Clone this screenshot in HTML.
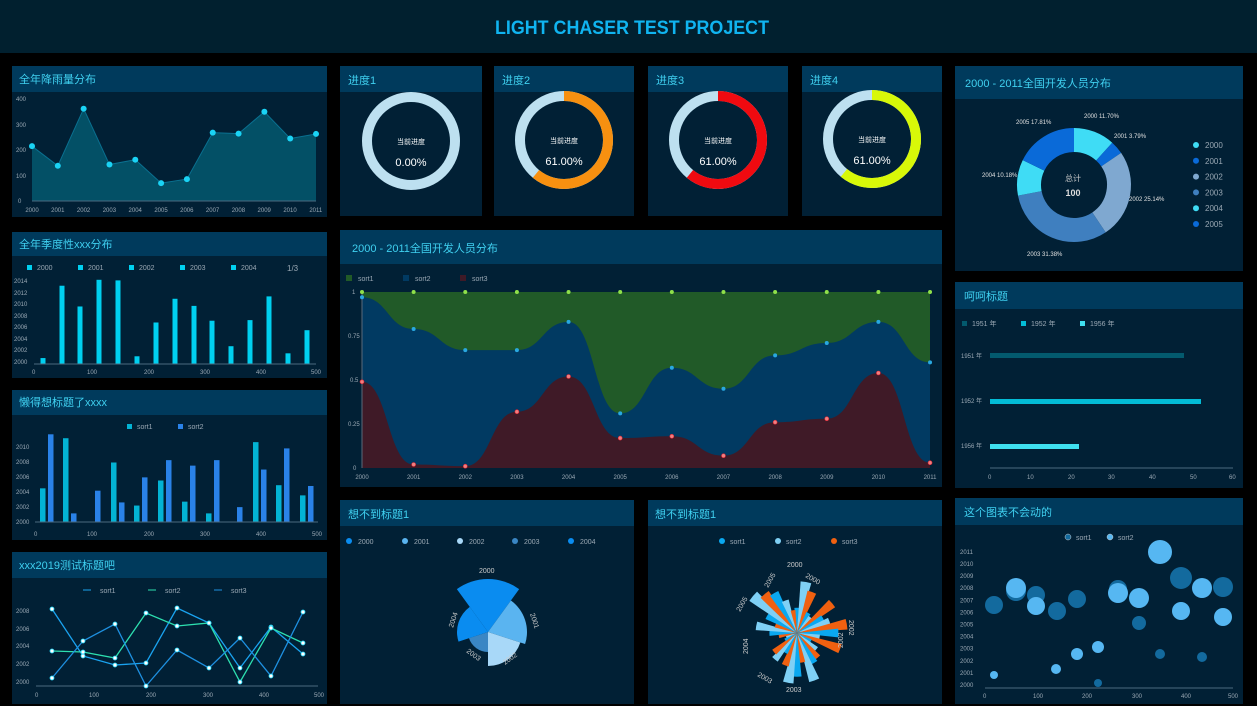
<!DOCTYPE html>
<html><head><meta charset="utf-8"><style>
html,body{margin:0;padding:0;background:#000;}
svg{display:block;font-family:"Liberation Sans","Noto Sans CJK SC",sans-serif;}
.t{fill:#3fd0f0;font-size:11px;}
.ax{fill:#9aa8b4;font-size:6px;}
.lg{fill:#9aa8b4;font-size:7px;}
</style></head><body>
<svg id="s" width="1257" height="706" viewBox="0 0 1257 706" xmlns="http://www.w3.org/2000/svg">
<rect width="1257" height="706" fill="#000"/>
<rect x="0" y="0" width="1257" height="53" fill="#01202f"/>
<text x="632" y="34" text-anchor="middle" fill="#10b4f0" font-size="19" font-weight="bold" textLength="274" lengthAdjust="spacingAndGlyphs">LIGHT CHASER TEST PROJECT</text>

<g id="panels"></g>
<g id="shapes"></g>

<text class="t" x="19" y="83">全年降雨量分布</text>
<text class="t" x="19" y="248">全年季度性xxx分布</text>
<text class="t" x="19" y="406">懒得想标题了xxxx</text>
<text class="t" x="19" y="569">xxx2019测试标题吧</text>
<text class="t" x="348" y="84" font-size="12">进度1</text>
<text class="t" x="502" y="84" font-size="12">进度2</text>
<text class="t" x="656" y="84" font-size="12">进度3</text>
<text class="t" x="810" y="84" font-size="12">进度4</text>
<text class="t" x="352" y="252" font-size="14">2000 - 2011全国开发人员分布</text>
<text class="t" x="348" y="518">想不到标题1</text>
<text class="t" x="655" y="518">想不到标题1</text>
<text class="t" x="965" y="87" font-size="12">2000 - 2011全国开发人员分布</text>
<text class="t" x="964" y="300">呵呵标题</text>
<text class="t" x="964" y="516">这个图表不会动的</text>

<g fill="#fff" text-anchor="middle">
<text x="411" y="144" font-size="7">当前进度</text><text x="411" y="166" font-size="11">0.00%</text>
<text x="564" y="143" font-size="7">当前进度</text><text x="564" y="165" font-size="11">61.00%</text>
<text x="718" y="143" font-size="7">当前进度</text><text x="718" y="165" font-size="11">61.00%</text>
<text x="872" y="142" font-size="7">当前进度</text><text x="872" y="164" font-size="11">61.00%</text>
</g>

<g class="ax">
<text x="16" y="101">400</text><text x="16" y="127">300</text><text x="16" y="152">200</text><text x="16" y="178">100</text><text x="18" y="203">0</text>
</g>
<g class="ax" text-anchor="middle" id="p1x"></g>

<g class="lg">
<rect x="27" y="265" width="5" height="5" fill="#00d0f0"/><text x="37" y="270">2000</text>
<rect x="78" y="265" width="5" height="5" fill="#00d0f0"/><text x="88" y="270">2001</text>
<rect x="129" y="265" width="5" height="5" fill="#00d0f0"/><text x="139" y="270">2002</text>
<rect x="180" y="265" width="5" height="5" fill="#00d0f0"/><text x="190" y="270">2003</text>
<rect x="231" y="265" width="5" height="5" fill="#00d0f0"/><text x="241" y="270">2004</text>
<text x="287" y="271" font-size="8">1/3</text>
</g>
<g class="ax"><text x="14" y="283">2014</text><text x="14" y="295">2012</text><text x="14" y="306">2010</text><text x="14" y="318">2008</text><text x="14" y="329">2006</text><text x="14" y="341">2004</text><text x="14" y="352">2002</text><text x="14" y="364">2000</text>
<text x="32" y="374">0</text><text x="87" y="374">100</text><text x="144" y="374">200</text><text x="200" y="374">300</text><text x="256" y="374">400</text><text x="311" y="374">500</text></g>

<g class="lg"><rect x="127" y="424" width="5" height="5" fill="#03b3d4"/><text x="137" y="429">sort1</text>
<rect x="178" y="424" width="5" height="5" fill="#2a82e8"/><text x="188" y="429">sort2</text></g>
<g class="ax"><text x="16" y="449">2010</text><text x="16" y="464">2008</text><text x="16" y="479">2006</text><text x="16" y="494">2004</text><text x="16" y="509">2002</text><text x="16" y="524">2000</text>
<text x="34" y="536">0</text><text x="87" y="536">100</text><text x="144" y="536">200</text><text x="200" y="536">300</text><text x="256" y="536">400</text><text x="312" y="536">500</text></g>

<g class="lg"><line x1="83" y1="590" x2="91" y2="590" stroke="#1aa3f0"/><text x="100" y="593">sort1</text>
<line x1="148" y1="590" x2="156" y2="590" stroke="#2de0b0"/><text x="165" y="593">sort2</text>
<line x1="214" y1="590" x2="222" y2="590" stroke="#1e90e0"/><text x="231" y="593">sort3</text></g>
<g class="ax"><text x="16" y="613">2008</text><text x="16" y="631">2006</text><text x="16" y="648">2004</text><text x="16" y="666">2002</text><text x="16" y="684">2000</text>
<text x="35" y="697">0</text><text x="89" y="697">100</text><text x="146" y="697">200</text><text x="203" y="697">300</text><text x="259" y="697">400</text><text x="314" y="697">500</text></g>

<g class="lg"><rect x="346" y="275" width="6" height="6" fill="#215a28"/><text x="358" y="281">sort1</text>
<rect x="403" y="275" width="6" height="6" fill="#013a62"/><text x="415" y="281">sort2</text>
<rect x="460" y="275" width="6" height="6" fill="#3f1a27"/><text x="472" y="281">sort3</text></g>
<g class="ax" font-size="5"><text x="352" y="294">1</text><text x="348" y="338">0.75</text><text x="350" y="382">0.5</text><text x="348" y="426">0.25</text><text x="353" y="470">0</text></g>
<g class="ax" font-size="5" text-anchor="middle" id="cx"></g>

<g fill="#e0e0e0" font-size="6">
<text x="1084" y="118">2000 11.70%</text><text x="1114" y="138">2001 3.79%</text><text x="1129" y="201">2002 25.14%</text>
<text x="1027" y="256">2003 31.38%</text><text x="982" y="177">2004 10.18%</text><text x="1016" y="124">2005 17.81%</text>
</g>
<text x="1073" y="181" fill="#ccc" font-size="8" text-anchor="middle">总计</text>
<text x="1073" y="196" fill="#ddd" font-size="9" font-weight="bold" text-anchor="middle">100</text>
<g class="lg" id="dleg"></g>

<g class="lg"><rect x="962" y="321" width="5" height="5" fill="#035a6e"/><text x="972" y="326">1951 年</text>
<rect x="1021" y="321" width="5" height="5" fill="#03bcd6"/><text x="1031" y="326">1952 年</text>
<rect x="1080" y="321" width="5" height="5" fill="#3fe0f0"/><text x="1090" y="326">1956 年</text></g>
<g class="ax"><text x="961" y="358">1951 年</text><text x="961" y="403">1952 年</text><text x="961" y="448">1956 年</text>
<text x="988" y="479">0</text><text x="1027" y="479">10</text><text x="1068" y="479">20</text><text x="1108" y="479">30</text><text x="1149" y="479">40</text><text x="1190" y="479">50</text><text x="1229" y="479">60</text></g>

<g class="lg"><circle cx="349" cy="541" r="3" fill="#0a8cf0"/><text x="358" y="544">2000</text>
<circle cx="405" cy="541" r="3" fill="#5ab4f0"/><text x="414" y="544">2001</text>
<circle cx="460" cy="541" r="3" fill="#a8d8f8"/><text x="469" y="544">2002</text>
<circle cx="515" cy="541" r="3" fill="#3a86c4"/><text x="524" y="544">2003</text>
<circle cx="571" cy="541" r="3" fill="#0a8cf0"/><text x="580" y="544">2004</text></g>
<g fill="#ccc" font-size="7"><text x="479" y="573">2000</text>
<text transform="translate(530,614) rotate(72)">2001</text>
<text transform="translate(505,665) rotate(-36)">2002</text>
<text transform="translate(466,652) rotate(36)">2003</text>
<text transform="translate(453,628) rotate(-72)">2004</text></g>

<g class="lg"><circle cx="722" cy="541" r="3" fill="#0aa8f0"/><text x="730" y="544">sort1</text>
<circle cx="778" cy="541" r="3" fill="#7fd0f5"/><text x="786" y="544">sort2</text>
<circle cx="834" cy="541" r="3" fill="#f06010"/><text x="842" y="544">sort3</text></g>
<g fill="#ccc" font-size="7"><text x="787" y="567">2000</text>
<text transform="translate(805,577) rotate(30)">2000</text>
<text transform="translate(768,588) rotate(-60)">2005</text>
<text transform="translate(740,612) rotate(-60)">2005</text>
<text transform="translate(849,620) rotate(90)">2002</text>
<text transform="translate(843,648) rotate(-90)">2002</text>
<text transform="translate(748,654) rotate(-90)">2004</text>
<text x="786" y="692">2003</text>
<text transform="translate(757,676) rotate(30)">2003</text></g>

<g class="lg"><circle cx="1068" cy="537" r="3" fill="#136a9e" stroke="#ccc" stroke-width=".5"/><text x="1076" y="540">sort1</text>
<circle cx="1110" cy="537" r="3" fill="#56b7f2" stroke="#ccc" stroke-width=".5"/><text x="1118" y="540">sort2</text></g>
<g class="ax" id="by"></g>
<g class="ax"><text x="983" y="698">0</text><text x="1033" y="698">100</text><text x="1082" y="698">200</text><text x="1132" y="698">300</text><text x="1181" y="698">400</text><text x="1228" y="698">500</text></g>
</svg>
<script>
const NS="http://www.w3.org/2000/svg";
function el(p,t,a){const e=document.createElementNS(NS,t);for(const k in a)e.setAttribute(k,a[k]);document.getElementById(p).appendChild(e);return e;}
const P=[[12,66,315,151,26],[12,232,315,146,24],[12,390,315,150,25],[12,552,315,152,26],
[340,66,142,150,26],[494,66,140,150,26],[648,66,140,150,26],[802,66,140,150,26],
[340,230,602,257,34],[340,500,294,204,26],[648,500,294,204,26],
[955,66,288,205,33],[955,282,288,206,27],[955,498,288,206,27]];
P.forEach(p=>{el("panels","rect",{x:p[0],y:p[1],width:p[2],height:p[3],fill:"#012035"});el("panels","rect",{x:p[0],y:p[1],width:p[2],height:p[4],fill:"#003a5c"});});
for(let i=0;i<12;i++){const t=el("p1x","text",{x:32+25.8*i,y:212});t.textContent=2000+i;
const t2=el("cx","text",{x:362+51.64*i,y:479});t2.textContent=2000+i;}
const v1=[215,138,362,143,162,70,86,268,264,350,245,263];
let pts=v1.map((v,i)=>[32+25.82*i,201-v*0.255]);
el("shapes","path",{d:"M32,201 L"+pts.map(p=>p.join(",")).join(" L")+" L316,201Z",fill:"#035066"});
el("shapes","polyline",{points:pts.map(p=>p.join(",")).join(" "),fill:"none",stroke:"#0a7090","stroke-width":1});
pts.forEach(p=>el("shapes","circle",{cx:p[0],cy:p[1],r:3,fill:"#1ad3f5"}));
el("shapes","line",{x1:32,y1:201,x2:316,y2:201,stroke:"#4a6a80"});
const v2=[1,13.2,9.7,14.2,14.1,1.3,7,11,9.8,7.3,3,7.4,11.4,1.8,5.7],x2=[43,62,80,99,118,137,156,175,194,212,231,250,269,288,307];
v2.forEach((v,i)=>el("shapes","rect",{x:x2[i]-2.5,y:364-v*5.93,width:5,height:v*5.93,fill:"#00d0f0"}));
el("shapes","line",{x1:34,y1:364,x2:316,y2:364,stroke:"#4a6a80"});
const v3=[[4.3,11.2],[10.7,1.1],[0,4],[7.6,2.5],[2.1,5.7],[5.3,7.9],[2.6,7.2],[1.1,7.9],[0,1.9],[10.2,6.7],[4.7,9.4],[3.4,4.6]];
const x3=[43,66,90,114,137,161,185,209,232,256,279,303];
v3.forEach((v,i)=>{el("shapes","rect",{x:x3[i]-3,y:522-v[0]*7.83,width:5.5,height:v[0]*7.83,fill:"#03b3d4"});
el("shapes","rect",{x:x3[i]+5,y:522-v[1]*7.83,width:5.5,height:v[1]*7.83,fill:"#2a82e8"});});
el("shapes","line",{x1:35,y1:522,x2:318,y2:522,stroke:"#4a6a80"});
const x4=[52,83,115,146,177,209,240,271,303];
const L=[["#1aa3f0",[609,656,665,663,608,623,668,627,654]],["#2de0b0",[651,652,658,613,626,623,682,628,643]],["#1e90e0",[678,641,624,686,650,668,638,676,612]]];
el("shapes","line",{x1:36,y1:686,x2:318,y2:686,stroke:"#4a6a80"});
L.forEach(l=>{el("shapes","polyline",{points:l[1].map((y,i)=>x4[i]+","+y).join(" "),fill:"none",stroke:l[0],"stroke-width":1.3});});
L.forEach(l=>l[1].forEach((y,i)=>el("shapes","circle",{cx:x4[i],cy:y,r:2,fill:"#fff",stroke:"#1ad3f5","stroke-width":.8})));
function arc(cx,cy,r,a0,a1){const rad=a=>a*Math.PI/180;const p=a=>[cx+r*Math.sin(rad(a)),cy-r*Math.cos(rad(a))];const s=p(a0),e=p(a1);return `M${s[0]},${s[1]} A${r},${r} 0 ${a1-a0>180?1:0} 1 ${e[0]},${e[1]}`;}
[[411,141,null],[564,140,"#f79010"],[718,140,"#f00a10"],[872,139,"#d8f808"]].forEach(g=>{
el("shapes","circle",{cx:g[0],cy:g[1],r:44,fill:"none",stroke:"#bde0f0","stroke-width":10});
if(g[2])el("shapes","path",{d:arc(g[0],g[1],44,0,219.6),fill:"none",stroke:g[2],"stroke-width":10});});
el("shapes","rect",{x:362,y:292,width:568,height:176,fill:"#215a28"});
el("shapes","path",{d:"M362,297.3 C387.8,297.3 387.8,329 413.6,329 C439.5,329 439.5,350.1 465.3,350.1 C491.1,350.1 491.1,350.1 516.9,350.1 C542.7,350.1 542.7,321.9 568.5,321.9 C594.4,321.9 594.4,413.4 620.2,413.4 C646,413.4 646,367.7 671.8,367.7 C697.7,367.7 697.7,388.8 723.5,388.8 C749.3,388.8 749.3,355.4 775.1,355.4 C800.9,355.4 800.9,343 826.7,343 C852.6,343 852.6,321.9 878.4,321.9 C904.2,321.9 904.2,362.4 930,362.4 L930,468 L362,468Z",fill:"#013a62"});
el("shapes","path",{d:"M362,381.8 C387.8,381.8 387.8,464.5 413.6,464.5 C439.5,464.5 439.5,466.2 465.3,466.2 C491.1,466.2 491.1,411.7 516.9,411.7 C542.7,411.7 542.7,376.5 568.5,376.5 C594.4,376.5 594.4,438.1 620.2,438.1 C646,438.1 646,436.3 671.8,436.3 C697.7,436.3 697.7,455.7 723.5,455.7 C749.3,455.7 749.3,422.2 775.1,422.2 C800.9,422.2 800.9,418.7 826.7,418.7 C852.6,418.7 852.6,373 878.4,373 C904.2,373 904.2,462.7 930,462.7 L930,468 L362,468Z",fill:"#3f1a27"});
el("shapes","line",{x1:362,y1:292,x2:362,y2:468,stroke:"#5a6a7a"});
const s2=[297.3,329,350.1,350.1,321.9,413.4,367.7,388.8,355.4,343,321.9,362.4],s3=[381.8,464.5,466.2,411.7,376.5,438.1,436.3,455.7,422.2,418.7,373,462.7];
for(let i=0;i<12;i++){const x=362+51.64*i;
el("shapes","circle",{cx:x,cy:292,r:2,fill:"#8fe04a"});
el("shapes","circle",{cx:x,cy:s2[i],r:2,fill:"#29a8e0"});
el("shapes","circle",{cx:x,cy:s3[i],r:2,fill:"#f08080",stroke:"#e02030","stroke-width":.6});}
const dv=[11.70,3.79,25.14,31.38,10.18,17.81],dc=["#3fdcf5","#0a6ad8","#7fa8d0","#3f7fbf","#3fdcf5","#0a6ad8"];
let a=0;dv.forEach((v,i)=>{const b=a+v*3.6;el("shapes","path",{d:arc(1074,185,45,a,b),fill:"none",stroke:dc[i],"stroke-width":24});a=b;});
["2000","2001","2002","2003","2004","2005"].forEach((t,i)=>{el("dleg","circle",{cx:1196,cy:145+15.8*i,r:3,fill:dc[i]});const tt=el("dleg","text",{x:1205,y:148+15.8*i,"font-size":8});tt.textContent=t;});
el("shapes","rect",{x:990,y:353,width:194,height:5,fill:"#035a6e"});
el("shapes","rect",{x:990,y:399,width:211,height:5,fill:"#03bcd6"});
el("shapes","rect",{x:990,y:444,width:89,height:5,fill:"#3fe0f0"});
el("shapes","line",{x1:990,y1:468,x2:1233,y2:468,stroke:"#4a6a80"});
function sector(cx,cy,r,a0,a1){const rad=x=>x*Math.PI/180;const p=x=>[cx+r*Math.sin(rad(x)),cy-r*Math.cos(rad(x))];const s=p(a0),e=p(a1);return `M${cx},${cy} L${s[0]},${s[1]} A${r},${r} 0 0 1 ${e[0]},${e[1]}Z`;}
[[53,"#0a8cf0"],[39,"#5ab4f0"],[34,"#a8d8f8"],[20,"#3a86c4"],[31,"#0a8cf0"]].forEach((s,i)=>el("shapes","path",{d:sector(488,632,s[0],-36+72*i,36+72*i),fill:s[1]}));
const rc=["#0aa8f0","#7fd0f5","#f06010"];
const rr=[22,45,38,20,18,40,26,30,44,36,20,40,14,22,28,30,44,26,38,44,30,20,30,26,12,10,16,24,36,20,30,50,44,40,30,20];
for(let i=0;i<36;i++){el("shapes","path",{d:sector(797,633,rr[i]*1.15,i*10-6,i*10+6),fill:rc[i%3]});}
el("shapes","line",{x1:985,y1:688,x2:1233,y2:688,stroke:"#4a6a80"});
for(let i=0;i<12;i++){const t=el("by","text",{x:960,y:687-12.1*i});t.textContent=2000+i;}
const B=[[994,605,9,0],[1016,591,10,0],[1016,588,10,1],[1036,595,9,0],[1036,606,9,1],[1057,611,9,0],[1077,599,9,0],[1118,589,9,0],[1118,593,10,1],[1139,598,10,1],[1139,623,7,0],[1160,552,12,1],[1181,578,11,0],[1202,588,10,1],[1223,587,10,0],[1181,611,9,1],[1223,617,9,1],[1098,647,6,1],[1077,654,6,1],[1056,669,5,1],[994,675,4,1],[1098,683,4,0],[1160,654,5,0],[1202,657,5,0]];
B.forEach(b=>el("shapes","circle",{cx:b[0],cy:b[1],r:b[2],fill:b[3]?"#56b7f2":"#136a9e"}));
</script>
</body></html>
